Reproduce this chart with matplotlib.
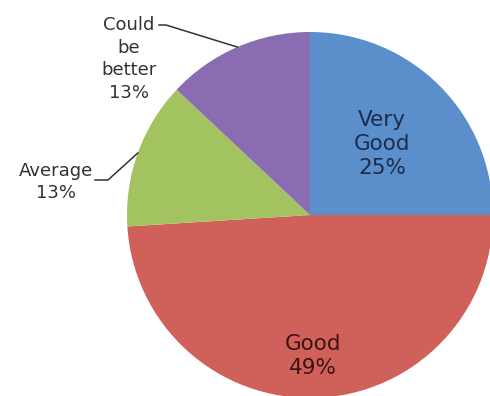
import numpy as np
import matplotlib
matplotlib.use("Agg")
import matplotlib.pyplot as plt

categories = ["Very Good", "Good", "Average", "Could be better"]
shares = [25, 49, 13, 13]
colors = ["#5b8fcc", "#d0605a", "#a3c260", "#8a6cb3"]

W, H = 490, 396
fig = plt.figure(figsize=(W / 100, H / 100), dpi=100)
ax = fig.add_axes([0, 0, 1, 1])

cx, cy, r = 310, H - 215, 183
wedges, _ = ax.pie(shares, colors=colors, startangle=90, counterclock=False,
                   center=(cx, cy), radius=r,
                   wedgeprops=dict(linewidth=0), frame=True)
ax.set_xlim(0, W)
ax.set_ylim(0, H)
ax.set_aspect("equal")
ax.axis("off")

font = "DejaVu Sans"

def mid_point(i):
    w = wedges[i]
    ang = np.deg2rad((w.theta1 + w.theta2) / 2)
    return cx + r * np.cos(ang), cy + r * np.sin(ang)

def label(i):
    name = categories[i].replace(" ", "\n")
    return f"{name}\n{shares[i]}%"

# labels inside the two large slices
ax.text(382, H - 144, label(0), ha="center", va="center", fontsize=15.5,
        color="#1c2c4c", family=font, linespacing=1.25)
ax.text(313, H - 356, label(1), ha="center", va="center", fontsize=15.5,
        color="#3a1414", family=font, linespacing=1.25)

# labels outside the small slices, with leader lines
ax.text(56, H - 182, "Average\n13%", ha="center", va="center",
        fontsize=13, color="#333333", family=font, linespacing=1.35)
ex, ey = mid_point(2)
ax.plot([95, 108, ex], [H - 180, H - 180, ey], color="#333333", lw=1.1)

ax.text(129, H - 59, label(3), ha="center", va="center", fontsize=13,
        color="#333333", family=font, linespacing=1.35)
ex, ey = mid_point(3)
ax.plot([159, 166, ex], [H - 25, H - 25, ey], color="#333333", lw=1.1)

fig.savefig("out.png", dpi=100, facecolor="white")
